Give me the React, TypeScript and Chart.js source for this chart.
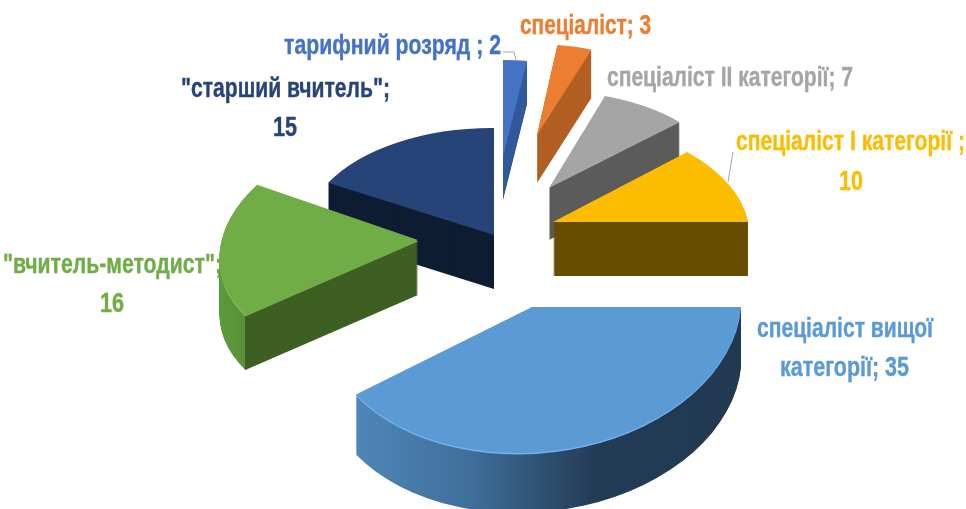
import React, { useEffect, useRef } from "react";
import { Chart, registerables } from "chart.js";

Chart.register(...registerables);

// ---- data -------------------------------------------------------------
const categories = [
  "тарифний розряд",
  "спеціаліст",
  "спеціаліст II категорії",
  "спеціаліст I категорії",
  "спеціаліст вищої категорії",
  '"вчитель-методист"',
  '"старший вчитель"',
];
const values = [2, 3, 7, 10, 35, 16, 15];
const topColors = ["#4472C4", "#ED7D31", "#A5A5A5", "#FCBD00", "#5B9AD5", "#70AD47", "#264478"];
const sideColors = ["#335A9C", "#B25F24", "#5C5C5C", "#664D00", "#2A4A69", "#3D5F22", "#0F1D33"];
const labelColors = ["#4472C4", "#ED7D31", "#A5A5A5", "#FCBD00", "#5B9AD5", "#70AD47", "#264478"];

// ---- 3D projection of every slice: linear map of the unit disc + extrusion
// a,b,c,d: image of the unit axes; ex,ey: image of slice apex; depth: wall height
const frames = [
  { a: 169, b: 0, c: 0, d: 97, ex: 503, ey: 157, depth: 43 },
  { a: 164, b: 0, c: 3, d: 91, ex: 537, ey: 135, depth: 48 },
  { a: 179, b: -3, c: 7, d: 97, ex: 549, ey: 188, depth: 52 },
  { a: 195, b: 0, c: 20, d: 107, ex: 553, ey: 222, depth: 54 },
  { a: 209, b: 0, c: -14.5, d: 146, ex: 532, ey: 307, depth: 60 },
  { a: 197, b: -3, c: -25, d: 121, ex: 418, ey: 240, depth: 55 },
  { a: 189, b: 1, c: 0, d: 107, ex: 494, ey: 235, depth: 54 },
];
const paintOrder = [0, 1, 2, 3, 6, 5, 4];

// ---- label layout: text, left x, right x, baseline y, colour index
const labelLayout = [
  { text: `${categories[0]} ; ${values[0]}`, x0: 284, x1: 501, y: 54, color: 0 },
  { text: `${categories[1]}; ${values[1]}`, x0: 520, x1: 651, y: 34, color: 1 },
  { text: `${categories[2]}; ${values[2]}`, x0: 607, x1: 853, y: 86, color: 2 },
  { text: `${categories[3]} ;`, x0: 736, x1: 965, y: 150, color: 3 },
  { text: `${values[3]}`, x0: 839, x1: 863, y: 190, color: 3 },
  { text: "спеціаліст вищої", x0: 757, x1: 933, y: 337, color: 4 },
  { text: `категорії; ${values[4]}`, x0: 780, x1: 909, y: 376, color: 4 },
  { text: `${categories[5]};`, x0: 3, x1: 222, y: 273, color: 5 },
  { text: `${values[5]}`, x0: 100, x1: 124, y: 312, color: 5 },
  { text: `${categories[6]};`, x0: 181, x1: 390, y: 97, color: 6 },
  { text: `${values[6]}`, x0: 273, x1: 297, y: 136, color: 6 },
];
const leaderLines = [
  [[503, 52], [514, 52], [516, 60]],
  [[733, 152], [728, 182]],
];

type Stop = [number, string];
// horizontal (screen space) gradient expressed in the slice's own coordinates
function wallGradient(ctx: CanvasRenderingContext2D, arc: any, f: any, x0: number, x1: number, stops: Stop[]) {
  const R = arc.outerRadius;
  const n = f.a * f.a + f.c * f.c;
  const t0 = ((x0 - f.ex) * R) / n;
  const t1 = ((x1 - f.ex) * R) / n;
  const g = ctx.createLinearGradient(arc.x + f.a * t0, arc.y + f.c * t0, arc.x + f.a * t1, arc.y + f.c * t1);
  stops.forEach(([p, col]) => g.addColorStop(p, col));
  return g;
}

function drawLayer(ctx: CanvasRenderingContext2D, arc: any, f: any, dy: number, fill: any) {
  const R = arc.outerRadius;
  const orig = arc.options;
  arc.options = { ...orig, backgroundColor: fill, borderWidth: 0, borderColor: "transparent" };
  ctx.save();
  ctx.translate(f.ex, f.ey + dy);
  ctx.transform(f.a / R, f.b / R, f.c / R, f.d / R, 0, 0);
  ctx.translate(-arc.x, -arc.y);
  arc.draw(ctx);
  ctx.restore();
  arc.options = orig;
}

const pie3d = {
  id: "pie3d",
  beforeDatasetDraw(chart: any) {
    const ctx: CanvasRenderingContext2D = chart.ctx;
    // labels lie under the slices
    ctx.save();
    ctx.textBaseline = "alphabetic";
    ctx.textAlign = "left";
    ctx.font = 'bold 27px "Liberation Sans Narrow", "Liberation Sans", sans-serif';
    labelLayout.forEach((l) => {
      const w = ctx.measureText(l.text).width;
      ctx.save();
      ctx.translate(l.x0, l.y);
      ctx.scale((l.x1 - l.x0) / w, 1);
      ctx.fillStyle = labelColors[l.color];
      ctx.strokeStyle = labelColors[l.color];
      ctx.lineWidth = 0.4;
      ctx.fillText(l.text, 0, 0);
      ctx.strokeText(l.text, 0, 0);
      ctx.restore();
    });
    ctx.strokeStyle = "#A6A6A6";
    ctx.lineWidth = 1;
    leaderLines.forEach((pts) => {
      ctx.beginPath();
      pts.forEach(([x, y], i) => (i ? ctx.lineTo(x, y) : ctx.moveTo(x, y)));
      ctx.stroke();
    });
    ctx.restore();

    const arcs = chart.getDatasetMeta(0).data;
    paintOrder.forEach((i) => {
      const arc = arcs[i];
      const f = frames[i];
      let side: any = sideColors[i];
      let rim: any = null;
      if (i === 4) {
        side = wallGradient(ctx, arc, f, 356, 741, [
          [0, "#4F86B8"],
          [0.3, "#3F6E9A"],
          [0.62, "#233C55"],
          [1, "#213A52"],
        ]);
        rim = "#74B2EC";
      }
      if (i === 5) {
        side = wallGradient(ctx, arc, f, 220, 420, [
          [0, "#5B9A3A"],
          [0.124, "#5B9039"],
          [0.127, "#3D5F22"],
          [1, "#3D5F22"],
        ]);
        rim = wallGradient(ctx, arc, f, 220, 420, [
          [0, "#86C25C"],
          [0.124, "#86C25C"],
          [0.127, "#70AD47"],
          [1, "#70AD47"],
        ]);
      }
      for (let d = f.depth; d >= 1; d -= 1) drawLayer(ctx, arc, f, d, side);
      if (rim) drawLayer(ctx, arc, f, 1.5, rim);
      drawLayer(ctx, arc, f, 0, topColors[i]);
    });
    return false;
  },
};

export default function App() {
  const ref = useRef<HTMLCanvasElement>(null);
  useEffect(() => {
    document.body.style.margin = "0";
    const chart = new Chart(ref.current!, {
      type: "pie",
      data: {
        labels: categories,
        datasets: [{ data: values, backgroundColor: topColors, borderWidth: 0 }],
      },
      options: {
        responsive: false,
        animation: false,
        layout: { padding: 0 },
        plugins: { legend: { display: false }, tooltip: { enabled: false } },
      },
      plugins: [pie3d],
    } as any);
    return () => chart.destroy();
  }, []);
  return (
    <div style={{ position: "absolute", left: 0, top: 0, width: 966, height: 509, overflow: "hidden", background: "#fff" }}>
      <canvas ref={ref} width={966} height={509} style={{ display: "block", filter: "blur(0.6px)" }} />
    </div>
  );
}
